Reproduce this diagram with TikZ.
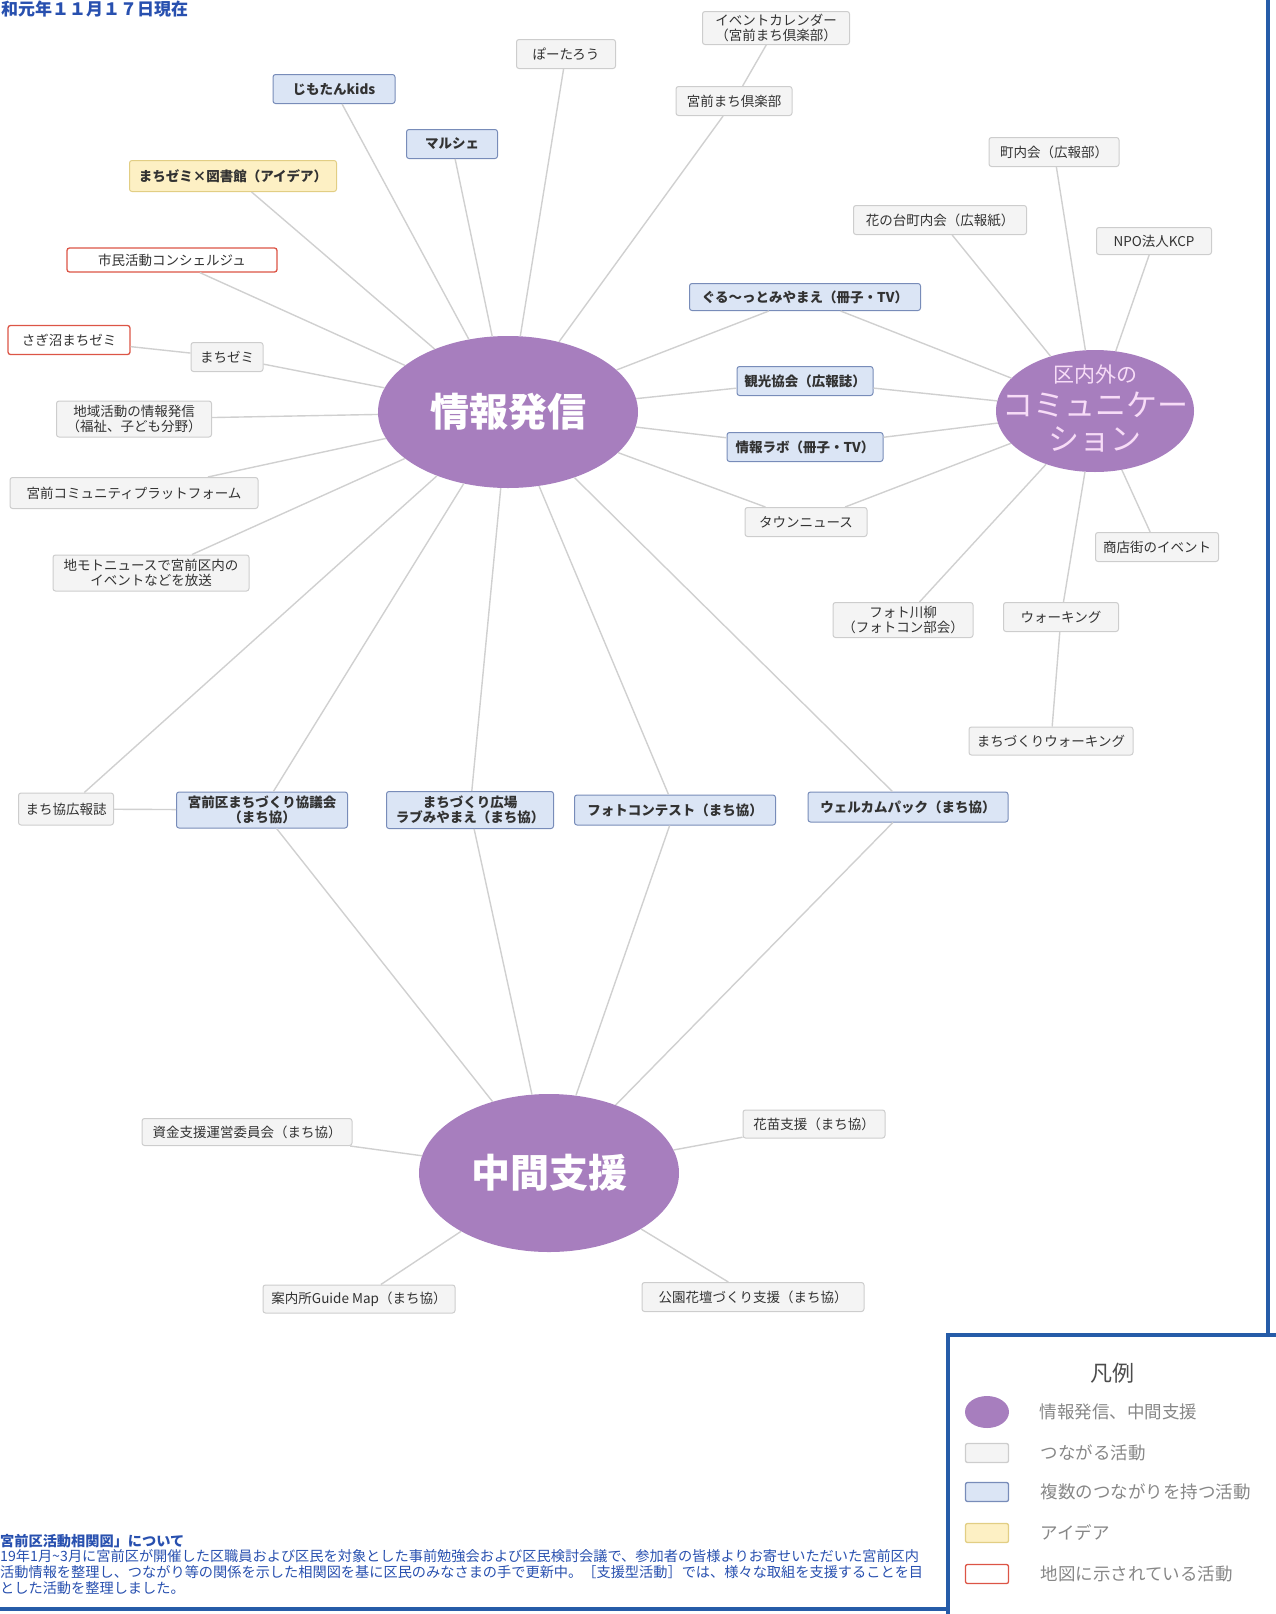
\documentclass[tikz,border=0pt]{standalone}
\usepackage{fontspec}
\setmainfont{Noto Sans CJK JP}
\usetikzlibrary{shapes.geometric,positioning}

\definecolor{hubpurple}{RGB}{167,126,190}
\definecolor{hubtext}{RGB}{247,220,247}
\definecolor{linegray}{RGB}{208,208,208}
\definecolor{frameblue}{RGB}{38,92,168}
\definecolor{noteblue}{RGB}{40,80,175}
\definecolor{boxgray}{RGB}{205,205,205}
\definecolor{fillgray}{RGB}{244,244,244}
\definecolor{boxblue}{RGB}{120,140,185}
\definecolor{fillblue}{RGB}{219,229,245}
\definecolor{boxyellow}{RGB}{226,206,132}
\definecolor{fillyellow}{RGB}{253,240,196}
\definecolor{boxred}{RGB}{220,85,70}
\definecolor{txtgray}{RGB}{50,50,50}
\definecolor{leggray}{RGB}{135,135,135}

\newcommand{\boxfont}{\fontsize{13.5}{15.5}\selectfont}

\begin{document}
\begin{tikzpicture}[x=1pt, y=-1pt,
    gbox/.style={draw=boxgray, fill=fillgray, rounded corners=2.5pt, line width=1pt, minimum height=29, inner xsep=3pt, inner ysep=2pt, font=\boxfont, text=txtgray, align=center},
    bbox/.style={gbox, draw=boxblue, fill=fillblue, font=\boxfont\bfseries},
    ybox/.style={gbox, draw=boxyellow, fill=fillyellow, font=\boxfont\bfseries},
    rbox/.style={gbox, draw=boxred, fill=white, line width=1.3pt},
    hub/.style={ellipse, fill=hubpurple, inner sep=0pt, text=white},
    link/.style={draw=linegray, line width=1.4pt},
    legbox/.style={rounded corners=2pt, line width=1.3pt, minimum width=43, minimum height=19, inner sep=0pt},
    legtext/.style={text=leggray, font=\fontsize{17.5}{19}\selectfont}]
    \useasboundingbox (0,0) rectangle (1275,1614);

    \draw[frameblue, line width=4pt] (1268,-5) -- (1268,1335);
    \draw[frameblue, line width=4pt] (1280,1335) -- (948,1335) -- (948,1620);
    \draw[frameblue, line width=4pt] (-5,1609) -- (948,1609);

    \node[anchor=base west, inner sep=0, text=noteblue, font=\fontsize{17}{17}\selectfont\bfseries] (datehdr) at (1,15) {和元年１１月１７日現在};

    \node[hub, minimum width=260, minimum height=152, font=\fontsize{39}{39}\selectfont\bfseries] (info) at (508,412) {情報発信};
    \node[hub, minimum width=198, minimum height=122] (comm) at (1095,411) {};
    \node[text=hubtext, align=center, font=\fontsize{31}{34}\selectfont] (commtxt) at ([yshift=2]comm) {{\fontsize{21}{26}\selectfont 区内外の}\\コミュニケー\\ション};
    \node[hub, minimum width=260, minimum height=158, font=\fontsize{39}{39}\selectfont\bfseries] (mid) at (549,1173) {中間支援};

    \node[bbox, minimum width=122] (jimo) at (334,89) {じもたんkids};
    \node[bbox, minimum width=91] (maru) at (452,144) {マルシェ};
    \node[ybox, minimum width=207, minimum height=31] (zemlib) at (233,176) {まちゼミ×図書館（アイデア）};
    \node[rbox, minimum width=210, minimum height=24] (conc) at (172,260) {市民活動コンシェルジュ};
    \node[gbox, minimum width=99] (porta) at (566,54) {ぽーたろう};
    \node[gbox, minimum width=147, minimum height=33] (evcal) at (776,28) {イベントカレンダー\\（宮前まち倶楽部）};
    \node[gbox, minimum width=116] (machclub) at (734,101) {宮前まち倶楽部};
    \node[gbox, minimum width=130] (chonai) at (1054,152) {町内会（広報部）};
    \node[gbox, minimum width=173] (hananodai) at (940,220) {花の台町内会（広報紙）};
    \node[gbox, minimum width=115, minimum height=27] (npo) at (1154,241) {NPO法人KCP};
    \node[bbox, minimum width=231, minimum height=27] (gurutto) at (805,297) {ぐる〜っとみやまえ（冊子・TV）};
    \node[bbox, minimum width=136] (kanko) at (805,381) {観光協会（広報誌）};
    \node[bbox, minimum width=156] (jlabo) at (805,447) {情報ラボ（冊子・TV）};
    \node[gbox, minimum width=122] (town) at (806,522) {タウンニュース};
    \node[gbox, minimum width=123] (shoten) at (1157,547) {商店街のイベント};
    \node[gbox, minimum width=140, minimum height=35] (senryu) at (903,620) {フォト川柳\\（フォトコン部会）};
    \node[gbox, minimum width=115] (walk) at (1061,617) {ウォーキング};
    \node[gbox, minimum width=164, minimum height=28] (mwalk) at (1051,741) {まちづくりウォーキング};

    \node[rbox, minimum width=122] (sagi) at (69,340) {さぎ沼まちゼミ};
    \node[gbox, minimum width=72] (zemi) at (227,357) {まちゼミ};
    \node[gbox, minimum width=155, minimum height=36] (chiiki) at (134,419) {地域活動の情報発信\\（福祉、子ども分野）};
    \node[gbox, minimum width=248, minimum height=31] (platf) at (134,493) {宮前コミュニティプラットフォーム};
    \node[gbox, minimum width=196, minimum height=36] (jimoto) at (151,573) {地モトニュースで宮前区内の\\イベントなどを放送};

    \node[gbox, minimum width=95, minimum height=32] (kyokoho) at (66,809) {まち協広報誌};
    \node[bbox, minimum width=171, minimum height=36] (kyogikai) at (262,810) {宮前区まちづくり協議会\\（まち協）};
    \node[bbox, minimum width=167, minimum height=37] (hiroba) at (470,810) {まちづくり広場\\ラブみやまえ（まち協）};
    \node[bbox, minimum width=201, minimum height=30] (photocon) at (675,810) {フォトコンテスト（まち協）};
    \node[bbox, minimum width=200, minimum height=30] (welcome) at (908,807) {ウェルカムパック（まち協）};

    \node[gbox, minimum width=210, minimum height=27] (shikin) at (247,1132) {資金支援運営委員会（まち協）};
    \node[gbox, minimum width=142, minimum height=28] (hanae) at (814,1124) {花苗支援（まち協）};
    \node[gbox, minimum width=192, minimum height=28] (guide) at (359,1299) {案内所Guide Map（まち協）};
    \node[gbox, minimum width=222, minimum height=29] (kadan) at (753,1297) {公園花壇づくり支援（まち協）};

    \foreach \n in {jimo,maru,zemlib,conc,porta,machclub,zemi,chiiki,platf,jimoto,gurutto,kanko,jlabo,town,kyokoho,kyogikai,hiroba,photocon,welcome} {
        \draw[link] (\n) -- (info);
    }
    \foreach \n in {chonai,hananodai,npo,gurutto,kanko,jlabo,town,shoten,senryu,walk} {
        \draw[link] (\n) -- (comm);
    }
    \foreach \n in {kyogikai,hiroba,photocon,welcome,shikin,hanae,guide,kadan} {
        \draw[link] (\n) -- (mid);
    }
    \draw[link] (evcal) -- (machclub);
    \draw[link] (sagi) -- (zemi);
    \draw[link] (walk) -- (mwalk);
    \draw[link] (kyokoho) -- (kyogikai);

    \node[text=black!70, font=\fontsize{22}{22}\selectfont] (legtitle) at (1112,1373) {凡例};
    \node[ellipse, fill=hubpurple, minimum width=44, minimum height=32, inner sep=0pt] (leghub) at (987,1412) {};
    \node[legbox, draw=boxgray, fill=fillgray] (leggray) at (987,1453) {};
    \node[legbox, draw=boxblue, fill=fillblue] (legblue) at (987,1492) {};
    \node[legbox, draw=boxyellow, fill=fillyellow] (legyellow) at (987,1533) {};
    \node[legbox, draw=boxred, fill=white] (legred) at (987,1574) {};
    \node[legtext, right=27pt of leghub] (leghubtxt) {情報発信、中間支援};
    \node[legtext, right=28pt of leggray] (leggraytxt) {つながる活動};
    \node[legtext, right=28pt of legblue] (legbluetxt) {複数のつながりを持つ活動};
    \node[legtext, right=28pt of legyellow] (legyellowtxt) {アイデア};
    \node[legtext, right=28pt of legred] (legredtxt) {地図に示されている活動};

    \node[anchor=north west, align=left, inner sep=0, text=noteblue, font=\fontsize{14.2}{15.6}\selectfont] (notetxt) at (0,1534) {{\bfseries 宮前区活動相関図」について}\\19年1月\textasciitilde 3月に宮前区が開催した区職員および区民を対象とした事前勉強会および区民検討会議で、参加者の皆様よりお寄せいただいた宮前区内\\活動情報を整理し、つながり等の関係を示した相関図を基に区民のみなさまの手で更新中。［支援型活動］では、様々な取組を支援することを目\\とした活動を整理しました。};
\end{tikzpicture}
\end{document}
